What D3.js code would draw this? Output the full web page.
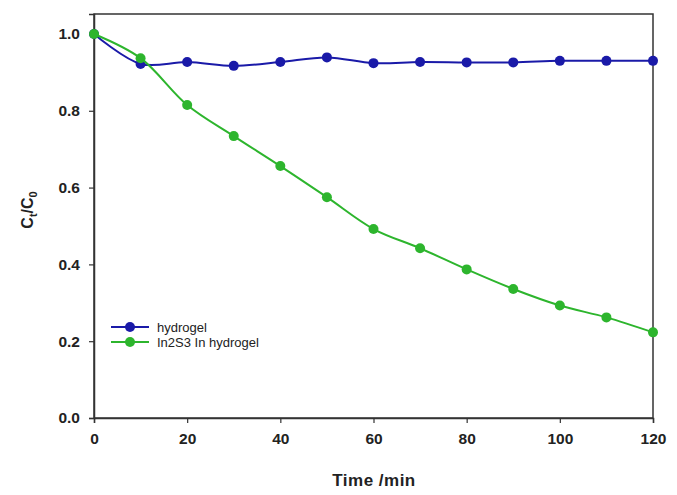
<!DOCTYPE html>
<body style="margin:0; padding:0; background:#fff;">
<script src="https://cdn.jsdelivr.net/npm/d3@7"></script>
<script>
    const times = [0, 10, 20, 30, 40, 50, 60, 70, 80, 90, 100, 110, 120];
    const hydrogel = [1.0, 0.922, 0.927, 0.917, 0.927, 0.939, 0.924, 0.927, 0.926, 0.926, 0.930, 0.930, 0.930];
    const in2s3 = [1.0, 0.937, 0.815, 0.734, 0.656, 0.575, 0.492, 0.442, 0.387, 0.336, 0.293, 0.262, 0.223];
    const xTicks = [0, 20, 40, 60, 80, 100, 120];
    const yTicks = [0.0, 0.2, 0.4, 0.6, 0.8, 1.0];
    const seriesNames = ["hydrogel", "In2S3 In hydrogel"];
    const colors = ["#1a1aa8", "#2db52d"];

    const width = 677, height = 495;
    const margin = {left: 94, right: 24, top: 14, bottom: 77};

    const svg = d3.select("body").append("svg")
      .attr("width", width)
      .attr("height", height)
      .style("font-family", "Liberation Sans, Arial, sans-serif");

    const x = d3.scaleLinear().domain([0, 120]).range([margin.left, width - margin.right]);
    const y = d3.scaleLinear().domain([0, 1.052]).range([height - margin.bottom, margin.top]);

    // frame
    svg.append("rect")
      .attr("x", x(0)).attr("y", y(1.052))
      .attr("width", x(120) - x(0)).attr("height", y(0) - y(1.052))
      .attr("fill", "none").attr("stroke", "#333").attr("stroke-width", 1.5);

    const xAxis = svg.append("g")
      .attr("transform", `translate(0,${y(0)})`)
      .call(d3.axisBottom(x).tickValues(xTicks).tickSize(5).tickPadding(10).tickFormat(d3.format("d")));
    const yAxis = svg.append("g")
      .attr("transform", `translate(${x(0)},0)`)
      .call(d3.axisLeft(y).tickValues(yTicks).tickSize(5).tickPadding(9).tickFormat(d3.format(".1f")));

    [xAxis, yAxis].forEach(a => {
      a.select(".domain").attr("stroke", "#333").attr("stroke-width", 1.5);
      a.selectAll(".tick line").attr("stroke", "#333").attr("stroke-width", 1.2);
      a.selectAll(".tick text")
        .attr("fill", "#222")
        .style("font-size", "15.5px")
        .style("font-weight", "bold")
        .style("font-family", "Liberation Sans, Arial, sans-serif");
    });

    svg.append("text")
      .attr("x", 374).attr("y", 486)
      .attr("text-anchor", "middle")
      .style("font-size", "17px").style("font-weight", "bold").attr("fill", "#222")
      .style("letter-spacing", "0.5px")
      .text("Time /min");

    const yl = svg.append("text")
      .attr("transform", `translate(33,210) rotate(-90)`)
      .attr("text-anchor", "middle")
      .style("font-size", "16px").style("font-weight", "bold").attr("fill", "#222");
    yl.append("tspan").text("C");
    yl.append("tspan").attr("dy", 4).style("font-size", "11px").text("t");
    yl.append("tspan").attr("dy", -4).text("/C");
    yl.append("tspan").attr("dy", 4).style("font-size", "11px").text("0");

    const line = d3.line()
      .x((d, i) => x(times[i]))
      .y(d => y(d))
      .curve(d3.curveCatmullRom);

    [hydrogel, in2s3].forEach((vals, k) => {
      svg.append("path")
        .attr("d", line(vals))
        .attr("fill", "none")
        .attr("stroke", colors[k])
        .attr("stroke-width", 2);
      svg.selectAll(".pt" + k)
        .data(vals)
        .enter().append("circle")
        .attr("cx", (d, i) => x(times[i]))
        .attr("cy", d => y(d))
        .attr("r", 5)
        .attr("fill", colors[k]);
    });

    // legend
    const leg = svg.append("g");
    seriesNames.forEach((name, k) => {
      const ly = 327 + k * 15;
      leg.append("line")
        .attr("x1", 111).attr("x2", 149).attr("y1", ly).attr("y2", ly)
        .attr("stroke", colors[k]).attr("stroke-width", 2);
      leg.append("circle").attr("cx", 130).attr("cy", ly).attr("r", 5).attr("fill", colors[k]);
      leg.append("text")
        .attr("x", 157).attr("y", ly + 4.5)
        .style("font-size", "13px").attr("fill", "#222")
        .text(name);
    });
</script>
</body>
